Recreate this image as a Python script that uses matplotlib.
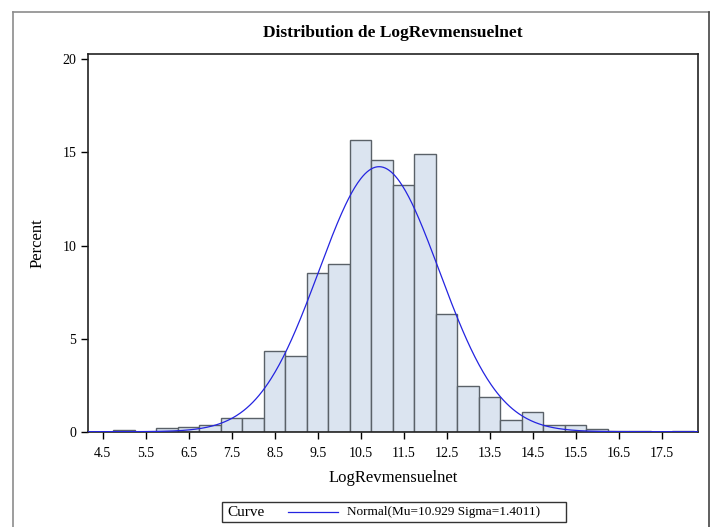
import numpy as np
import matplotlib
matplotlib.use("Agg")
import matplotlib.pyplot as plt
from matplotlib.lines import Line2D
from matplotlib.patches import Rectangle

# Data (bin midpoints, percent)
bin_mid = [5.0, 6.0, 6.5, 7.0, 7.5, 8.0, 8.5, 9.0, 9.5, 10.0, 10.5, 11.0, 11.5,
           12.0, 12.5, 13.0, 13.5, 14.0, 14.5, 15.0, 15.5, 16.0, 16.5, 17.0, 18.0]
percent = [0.07, 0.18, 0.23, 0.37, 0.72, 0.74, 4.35, 4.07, 8.51, 8.99, 15.66, 14.62, 13.23,
           14.9, 6.31, 2.47, 1.86, 0.63, 1.07, 0.36, 0.36, 0.13, 0.05, 0.02, 0.03]
bin_width = 0.5
mu = 10.929
sigma = 1.4011
x_ticks = [4.5, 5.5, 6.5, 7.5, 8.5, 9.5, 10.5, 11.5, 12.5, 13.5, 14.5, 15.5, 16.5, 17.5]
y_ticks = [0, 5, 10, 15, 20]

serif = ["Liberation Serif", "DejaVu Serif"]
plt.rcParams["font.family"] = serif

W, H = 716, 527
fig = plt.figure(figsize=(W / 100, H / 100), dpi=100)
ax = fig.add_axes([88.3 / W, 1 - 431.7 / H, (697.7 - 88.3) / W, (431.7 - 54) / H])

ax.bar(bin_mid, percent, width=bin_width, color="#dbe4f0", edgecolor="#5a6168",
       linewidth=1.0, zorder=2)

xs = np.linspace(4.15, 18.35, 600)
ys = 100 * bin_width * np.exp(-0.5 * ((xs - mu) / sigma) ** 2) / (sigma * np.sqrt(2 * np.pi))
ax.plot(xs, ys, color="#2424e0", linewidth=0.9, zorder=3)

ax.set_xlim(4.165, 18.34)
ax.set_ylim(0, 20.29)
ax.set_xticks(x_ticks)
ax.set_xticklabels([f"{v:g}" for v in x_ticks])
ax.set_yticks(y_ticks)
ax.tick_params(axis="both", direction="out", length=5, width=1, labelsize=10, colors="black")
ax.tick_params(axis="x", pad=6)
for s in ax.spines.values():
    s.set_linewidth(1.2)
    s.set_color("#222222")

ax.set_xlabel("LogRevmensuelnet", fontsize=12, labelpad=7)
ax.set_ylabel("Percent", fontsize=12, labelpad=12)
fig.text(393 / W, 1 - 33 / H, "Distribution de LogRevmensuelnet", ha="center", va="center",
         fontsize=12.5, fontweight="bold")

# outer frame
fc = "#8c8c8c"
fig.add_artist(Line2D([12.5 / W, 12.5 / W], [0, 1 - 11.7 / H], color=fc, lw=1.2, transform=fig.transFigure))
fig.add_artist(Line2D([12.5 / W, 709 / W], [1 - 11.7 / H, 1 - 11.7 / H], color=fc, lw=1.2, transform=fig.transFigure))
fig.add_artist(Line2D([709 / W, 709 / W], [0, 1 - 11.7 / H], color="#444444", lw=1.2, transform=fig.transFigure))

# legend box
lx0, lx1, ly0, ly1 = 221.7, 565.7, 501.7, 522.3
fig.add_artist(Rectangle((lx0 / W, 1 - ly1 / H), (lx1 - lx0) / W, (ly1 - ly0) / H,
                         transform=fig.transFigure, fill=False, edgecolor="#333333", lw=1.0))
ymid = 1 - (ly0 + ly1) / 2 / H
fig.text(227 / W, ymid, "Curve", ha="left", va="center", fontsize=11)
fig.add_artist(Line2D([288 / W, 338 / W], [ymid, ymid], color="#2424e0", lw=0.9, transform=fig.transFigure))
fig.text(347 / W, ymid, f"Normal(Mu={mu} Sigma={sigma})", ha="left", va="center", fontsize=9.5)

fig.savefig("out.png", dpi=100)
